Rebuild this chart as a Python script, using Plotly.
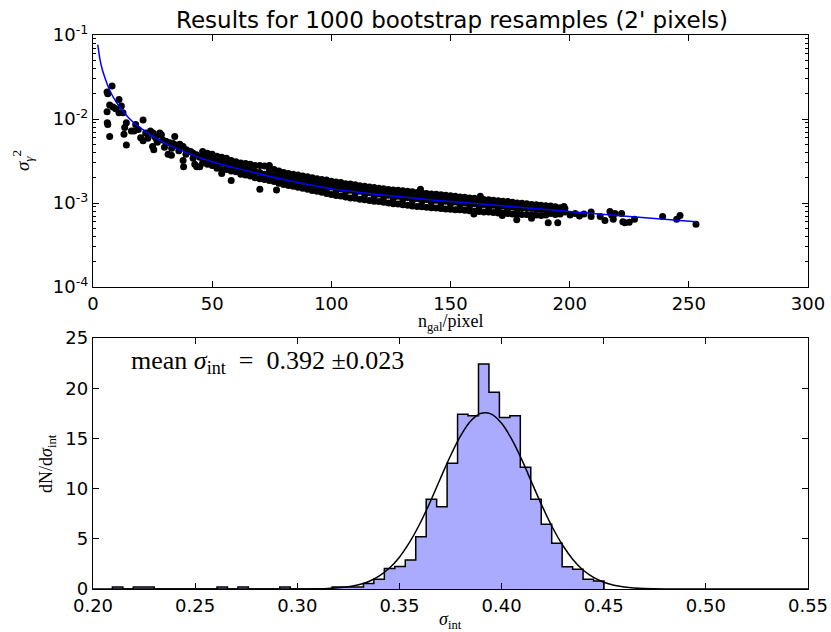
import numpy as np
import plotly.graph_objects as go

# ---------------- top panel data ----------------
# isolated points at low n_gal (sigma^2 in units of 1e-3)
early_n = [5.9, 6.2, 8.0, 7.0, 8.4, 9.5, 10.9, 11.9, 10.9, 12.6, 5.9, 6.0, 6.2, 7.0,
           14.0, 13.3, 13.0, 14.0, 16.1, 17.2, 17.9, 21.0, 21.0, 22.1, 24.1, 25.2,
           25.9, 25.0, 25.5, 28.0, 28.7, 29.4, 30.8, 32.2, 33.6, 34.3, 35.0, 36.4,
           37.8, 39.2, 40.6, 42.0, 43.4, 44.8, 31.5, 32.9, 37.8, 38.0, 41.0, 42.7,
           44.8, 43.5, 27.0, 23.0, 19.0, 20.0, 26.5, 30.0, 33.0, 36.0, 39.0, 42.0]
early_y = [21, 20, 24.7, 14.7, 13.9, 13.2, 17.1, 14.3, 11.9, 11.9, 12.2, 9.0, 8.6, 6.2,
           9.0, 7.9, 6.6, 4.9, 7.2, 7.2, 8.6, 9.7, 5.5, 6.8, 7.2, 6.8,
           6.2, 4.7, 4.3, 6.8, 6.5, 5.6, 5.4, 5.2, 5.1, 6.2, 4.9, 5.0,
           4.7, 4.3, 4.1, 3.9, 3.75, 3.5, 3.8, 3.7, 3.2, 2.7, 4.1, 2.9,
           2.7, 2.7, 5.3, 5.9, 7.5, 6.0, 5.8, 4.6, 4.5, 4.2, 3.8, 3.4]

# dense band: n_gal columns and the sigma^2 values (1e-3) seen in each column
band_cols = [46, 48, 50, 52, 54, 56, 58, 60, 62, 64, 66, 68, 70, 72, 74, 76, 78, 80,
             82, 84, 86, 88, 90, 92, 94, 96, 98, 100, 102, 104, 106, 108, 110, 112,
             114, 116, 118, 120, 122, 124, 126, 128, 130, 132, 134, 136, 138, 140,
             142, 144, 146, 148, 150, 152, 154, 156, 158, 160, 162, 164, 166, 168,
             170, 172, 174, 176, 178, 180, 182, 184, 186, 188, 190, 192, 194, 196, 198]
band_vals = [
    [4.1, 3.6, 3.0], [3.9, 3.4, 2.9, 3.1], [3.8, 3.3, 2.8], [3.6, 3.1, 2.6, 2.9],
    [3.5, 3.0, 2.5, 2.25], [3.4, 2.9, 2.5], [3.2, 2.8, 2.4, 1.85], [3.1, 2.7, 2.35],
    [3.0, 2.6, 2.2], [2.95, 2.5, 2.15, 2.7], [2.9, 2.45, 2.1], [2.8, 2.35, 2.0],
    [2.8, 2.3, 1.95, 1.46], [2.75, 2.2, 1.9], [2.8, 2.15, 1.85, 2.4], [2.5, 2.1, 1.8],
    [2.4, 2.0, 1.72, 2.15], [2.3, 1.95, 1.66, 2.1],
    [2.25, 1.95, 1.62, 1.8], [2.2, 1.9, 1.58, 1.75], [2.15, 1.85, 1.54, 1.7],
    [2.1, 1.8, 1.5, 1.95], [2.05, 1.75, 1.46, 1.6], [2.0, 1.7, 1.41, 1.85],
    [1.95, 1.65, 1.38, 1.55], [1.9, 1.6, 1.34, 1.75], [1.88, 1.58, 1.3, 1.45],
    [1.82, 1.55, 1.26, 1.68], [1.78, 1.5, 1.23, 1.4], [1.75, 1.48, 1.21, 1.6],
    [1.7, 1.45, 1.18, 1.35], [1.68, 1.42, 1.15, 1.55], [1.65, 1.4, 1.14, 1.3],
    [1.6, 1.38, 1.11, 1.5], [1.58, 1.35, 1.09, 1.25], [1.55, 1.32, 1.07, 1.45],
    [1.53, 1.3, 1.05, 1.2], [1.5, 1.28, 1.04, 1.4], [1.48, 1.26, 1.02, 1.17],
    [1.45, 1.24, 1.0, 1.35], [1.43, 1.22, 0.98, 1.13], [1.42, 1.2, 0.97, 1.3],
    [1.4, 1.18, 0.95, 1.1], [1.38, 1.16, 0.94, 1.28], [1.36, 1.15, 0.92, 1.07],
    [1.33, 1.13, 0.91, 1.24], [1.32, 1.12, 0.9, 1.04], [1.3, 1.1, 0.89, 1.2],
    [1.28, 1.09, 0.88, 1.02], [1.27, 1.08, 0.87, 1.17], [1.25, 1.06, 0.86, 0.99],
    [1.24, 1.05, 0.85, 1.14], [1.22, 1.04, 0.84, 0.97], [1.2, 1.03, 0.83, 1.12],
    [1.18, 1.01, 0.83, 0.94], [1.17, 1.0, 0.82, 1.09], [1.15, 0.99, 0.81, 0.92],
    [1.14, 0.98, 0.8, 1.07], [1.12, 0.97, 0.79, 0.9], [1.1, 0.96, 0.78, 1.04],
    [1.09, 0.95, 0.78, 0.88], [1.08, 0.94, 0.77, 1.02], [1.06, 0.93, 0.76, 0.86],
    [1.05, 0.92, 0.76, 1.0], [1.04, 0.91, 0.75, 0.84], [1.02, 0.9, 0.74, 0.97],
    [1.0, 0.89, 0.74, 0.82], [0.99, 0.88, 0.73, 0.95], [0.98, 0.87, 0.73],
    [0.96, 0.86, 0.72, 0.92], [0.95, 0.85, 0.72], [0.94, 0.84, 0.71, 0.9],
    [0.93, 0.83, 0.72], [0.92, 0.82, 0.75], [0.9, 0.8, 0.73], [0.88, 0.79, 0.74],
    [0.86, 0.78]]

# sparse points at high n_gal and outliers around the band
tail_n = [137.4, 162.5, 197.6, 177.8, 184.0, 191.0, 195.0, 159.8, 171.7, 77.0,
          200.2, 202.3, 204.1, 206.0, 209.0, 209.0, 212.8, 214.8, 216.9, 217.6,
          218.3, 219.0, 221.8, 222.3, 223.2, 225.0, 227.2, 239.0, 244.9, 246.3, 253.0]
tail_y = [1.46, 1.2, 0.91, 0.63, 0.66, 0.58, 0.58, 0.74, 0.71, 1.43,
          0.72, 0.75, 0.70, 0.74, 0.78, 0.69, 0.69, 0.62, 0.79, 0.72,
          0.64, 0.75, 0.75, 0.60, 0.58, 0.59, 0.64, 0.69, 0.64, 0.71, 0.56]

# model curve (blue)
model_n = [2, 3, 4, 5, 7, 10, 15, 20, 30, 40, 50, 60, 80, 100, 130, 150, 175, 200, 225, 253]
model_y = [0.077, 0.050, 0.038, 0.031, 0.022, 0.0155, 0.0103, 0.0078, 0.0052, 0.0039,
           0.0031, 0.0026, 0.00190, 0.00148, 0.00118, 0.00104, 0.00091, 0.00079,
           0.00069, 0.00060]

# ---------------- bottom panel data ----------------
bin_start = 0.2095
bin_width = 0.00512
hist_heights = [0.2, 0, 0.2, 0.2, 0, 0, 0, 0, 0, 0,
                0.2, 0, 0.2, 0, 0, 0, 0.2, 0, 0, 0,
                0, 0.2, 0.2, 0.2, 0.55, 0.98, 2.05, 2.25, 2.89, 5.21,
                8.93, 8.2, 12.52, 17.4, 17.26, 22.41, 19.59, 17.07, 17.26, 12.12,
                8.93, 6.44, 4.55, 2.22, 1.96, 0.97, 0.80]

gauss_x = [0.20, 0.29, 0.30, 0.305, 0.31, 0.315, 0.32, 0.325, 0.33, 0.335, 0.34, 0.345,
           0.35, 0.355, 0.36, 0.365, 0.37, 0.375, 0.38, 0.385, 0.39, 0.395, 0.40,
           0.405, 0.41, 0.415, 0.42, 0.425, 0.43, 0.435, 0.44, 0.445, 0.45, 0.455,
           0.46, 0.465, 0.47, 0.48, 0.49, 0.55]
gauss_y = [0.0, 0.0, 0.005, 0.011, 0.026, 0.056, 0.115, 0.225, 0.42, 0.75, 1.28, 2.06,
           3.17, 4.66, 6.5, 8.65, 10.98, 13.27, 15.27, 16.75, 17.5, 17.42, 16.5,
           14.9, 12.83, 10.5, 8.2, 6.1, 4.33, 2.92, 1.87, 1.15, 0.67, 0.37,
           0.2, 0.10, 0.05, 0.01, 0.0, 0.0]

top_xticks = [0, 50, 100, 150, 200, 250, 300]
top_yticks = [1e-4, 1e-3, 1e-2, 1e-1]
top_yticktext = ["10<sup>-4</sup>", "10<sup>-3</sup>", "10<sup>-2</sup>", "10<sup>-1</sup>"]
bot_xticks = [0.20, 0.25, 0.30, 0.35, 0.40, 0.45, 0.50, 0.55]
bot_yticks = [0, 5, 10, 15, 20, 25]

# ---------------- assemble ----------------
pts_n = list(early_n) + list(tail_n)
pts_y = list(early_y) + list(tail_y)
for c, vals in zip(band_cols, band_vals):
    for v in vals:
        pts_n.append(c)
        pts_y.append(v)
pts_y = [v * 1e-3 for v in pts_y]

edges = [bin_start + i * bin_width for i in range(len(hist_heights) + 1)]
step_x = [edges[0]] + edges
step_y = [0] + list(hist_heights) + [0]

W, H = 831, 632
def px(x): return x / W
def py(y): return 1 - y / H

fig = go.Figure()
fig.add_trace(go.Scatter(x=pts_n, y=pts_y, mode="markers",
                         marker=dict(color="black", size=7, line=dict(width=0)),
                         xaxis="x", yaxis="y", showlegend=False))
fig.add_trace(go.Scatter(x=model_n, y=model_y, mode="lines",
                         line=dict(color="#0000ff", width=1.5, shape="spline"),
                         xaxis="x", yaxis="y", showlegend=False))
fig.add_trace(go.Scatter(x=step_x, y=step_y, mode="lines",
                         line=dict(color="black", width=1.5, shape="hv"),
                         fill="tozeroy", fillcolor="#aaaaff",
                         xaxis="x2", yaxis="y2", showlegend=False))
fig.add_trace(go.Scatter(x=gauss_x, y=gauss_y, mode="lines",
                         line=dict(color="black", width=1.5, shape="spline"),
                         xaxis="x2", yaxis="y2", showlegend=False))

tickfont = dict(family="DejaVu Sans", size=18, color="black")
common = dict(showline=True, linecolor="black", linewidth=1.3, mirror="allticks",
              ticks="inside", ticklen=6, tickwidth=1, tickcolor="black",
              showgrid=False, zeroline=False, tickfont=tickfont, automargin=False)

minor_vals = [k * 10.0 ** e for e in (-4, -3, -2) for k in range(2, 10)]

fig.update_layout(
    width=W, height=H, margin=dict(l=0, r=0, t=0, b=0, autoexpand=False),
    plot_bgcolor="white", paper_bgcolor="white", showlegend=False,
    xaxis=dict(domain=[px(93), px(808)], range=[0, 300], anchor="y",
               tickmode="array", tickvals=top_xticks, **common),
    yaxis=dict(domain=[py(287), py(35)], type="log", range=[-4, -1], anchor="x",
               tickmode="array", tickvals=top_yticks, ticktext=top_yticktext,
               minor=dict(tickmode="array", tickvals=minor_vals, ticks="inside",
                          ticklen=3, tickcolor="black"),
               **common),
    xaxis2=dict(domain=[px(93), px(808)], range=[0.2, 0.55], anchor="y2",
                tickmode="array", tickvals=bot_xticks, tickformat=".2f", **common),
    yaxis2=dict(domain=[py(589), py(338)], range=[0, 25], anchor="x2",
                tickmode="array", tickvals=bot_yticks, **common),
)

serif = "Liberation Serif"
ann = [
    dict(text="Results for 1000 bootstrap resamples (2' pixels)", x=px(452), y=py(20),
         font=dict(family="DejaVu Sans", size=23, color="black")),
    dict(text="<i>σ</i><sub><i>γ</i></sub><sup>2</sup>", x=px(22), y=py(161), textangle=-90,
         font=dict(family=serif, size=19, color="black")),
    dict(text="n<sub>gal</sub>/pixel", x=px(450), y=py(323),
         font=dict(family=serif, size=18, color="black")),
    dict(text="dN/d<i>σ</i><sub>int</sub>", x=px(47), y=py(464), textangle=-90,
         font=dict(family=serif, size=18, color="black")),
    dict(text="<i>σ</i><sub>int</sub>", x=px(450), y=py(620),
         font=dict(family=serif, size=18, color="black")),
    dict(text="mean <i>σ</i><sub>int</sub>  =  0.392 ±0.023", x=px(129), y=py(362),
         xanchor="left", font=dict(family=serif, size=26, color="black")),
]
for a in ann:
    a.setdefault("xanchor", "center")
    a.update(xref="paper", yref="paper", yanchor="middle", showarrow=False)
fig.update_layout(annotations=ann)

fig.write_html("out.html", config={"displayModeBar": False},
               post_script="document.body.style.margin='0px';")
